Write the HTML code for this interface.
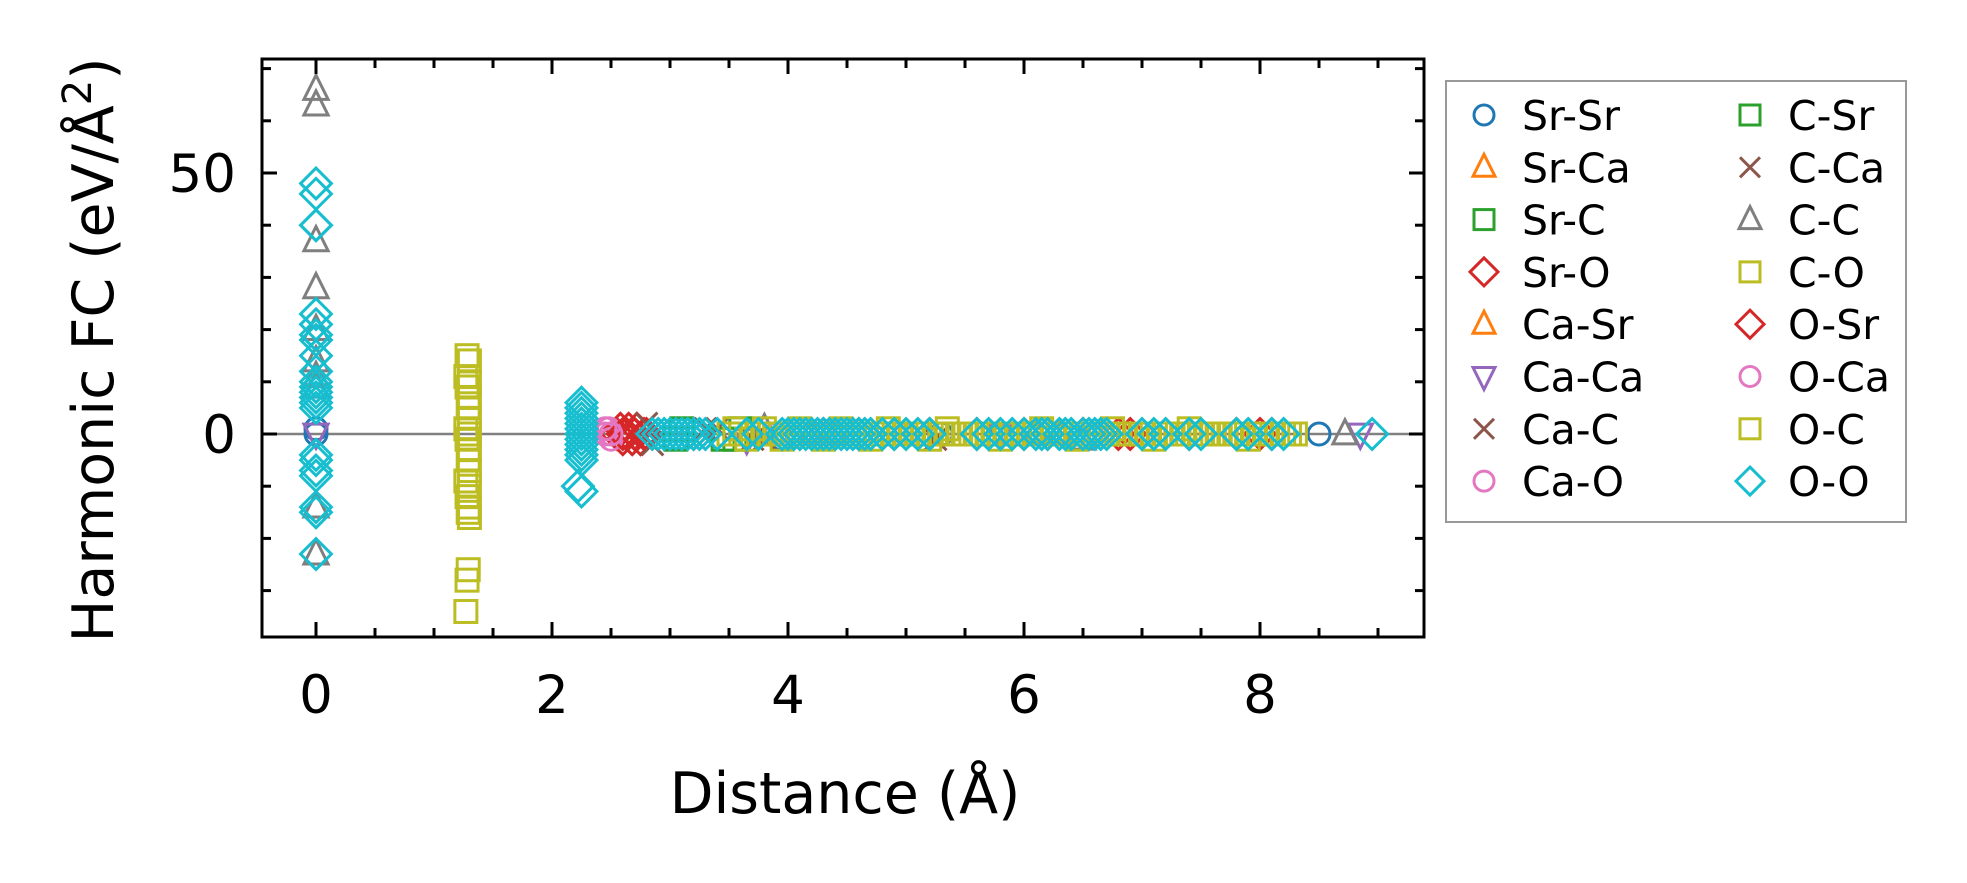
<!DOCTYPE html>
<html><head><meta charset="utf-8"><style>
body{margin:0;background:#fff;}
svg{display:block;font-family:"DejaVu Sans","Liberation Sans",sans-serif;}
</style></head><body>
<svg id="chart" width="1967" height="883" viewBox="0 0 1967 883">
<g id="marks"></g>
<g id="axes"></g>
<g id="legend"></g>
</svg>
<script>
const xTicks=[0,2,4,6,8];
const yTicks=[0,50];
const seriesNames=["Sr-Sr","Sr-Ca","Sr-C","Sr-O","Ca-Sr","Ca-Ca","Ca-C","Ca-O","C-Sr","C-Ca","C-C","C-O","O-Sr","O-Ca","O-C","O-O"];
const seriesColors=["#1f77b4","#ff7f0e","#2ca02c","#d62728","#ff7f0e","#9467bd","#8c564b","#e377c2","#2ca02c","#8c564b","#7f7f7f","#bcbd22","#d62728","#e377c2","#bcbd22","#17becf"];
const seriesMarkers=["o","^","s","D","^","v","x","o","s","x","^","s","D","o","s","D"];
const srsrX=[0,0,3.95,5.3,8.5];const srsrY=[0,1,-1,0,0];
const srcaX=[4.2,6.1];const srcaY=[0,0];
const srcX=[3.05,3.45,5.1];const srcY=[-1,-1,0];
const sroX=[2.55,2.58,2.6,2.63,2.65,2.68,2.7,2.72,2.75,2.78,2.8,4.3,4.6,5.2,6.0,6.5,6.9,7.8,8.1];const sroY=[0,1,-1,0,1,-1,0,1,-1,0,0,0,0,0,0,0,0,0,0];
const casrX=[4.4,6.3];const casrY=[0,0];
const cacaX=[0,3.65,5.8,8.85];const cacaY=[0,-1,0,0];
const cacX=[2.8,2.85,3.4,3.7,5.25];const cacY=[2,-2,1,-1,-1];
const caoX=[2.45,2.48,2.5,4.3,5.9,7.0];const caoY=[0,1,-1,0,0,0];
const csrX=[3.1,3.55,3.6];const csrY=[1,-1,1];
const ccaX=[3.3,3.8];const ccaY=[1,-1];
const ccX=[0,0,0,0,0,0,0,0,0,0,3.8,6.5,8.72];const ccY=[66,63,37,28,20,14,11,9,-14,-23,1,-1,0];
const coX=[1.28,1.3,1.27,1.3,1.28,1.3,1.29,1.3,1.27,1.3,1.28,1.3,1.29,1.3,1.27,1.3,1.28,1.3,1.29,1.3,1.29,1.28,1.27];
const coY=[15,14,11,10,9,7,5,3,1,0,-1,-3,-5,-7,-9,-10,-12,-14,-15,-16,-26,-28,-34];
const osrX=[2.6,2.7,3.2,4.1,4.9,5.6,6.2,6.8,7.4,8.0];const osrY=[0,0,0,0,0,0,0,0,0,0];
const ocaX=[2.45,2.5,3.9,5.0,6.6];const ocaY=[1,0,0,0,0];
const ocX=[3.5,3.55,3.6,3.65,3.7,3.75,3.8,3.85,3.9,3.95,4.0,4.05,4.1,4.15,4.2,4.25,4.3,4.35,4.4,4.45,4.5,4.55,4.6,4.65,4.7,4.75,4.8,4.85,4.9,4.95,5.0,5.05,5.1,5.15,5.2,5.25,5.3,5.35,5.4,5.45,5.5,5.55,5.6,5.65,5.7,5.75,5.8,5.85,5.9,5.95,6.0,6.05,6.1,6.15,6.2,6.25,6.3,6.35,6.4,6.45,6.5,6.55,6.6,6.65,6.7,6.75,6.8,6.85,6.9,6.95,7.0,7.05,7.1,7.15,7.2,7.25,7.3,7.35,7.4,7.45,7.5,7.55,7.6,7.65,7.7,7.75,7.8,7.85,7.9,7.95,8.0,8.05,8.1,8.15,8.2,8.25,8.3];
const ocY=[0,1,0,-1,0,0,1,0,0,-1,0,0,1,0,0,0,-1,0,0,1,0,0,0,0,-1,0,0,1,0,0,0,0,0,0,-1,0,0,1,0,0,0,0,0,0,0,0,-1,0,0,0,0,0,0,1,0,0,0,0,0,-1,0,0,0,0,0,1,0,0,0,0,0,0,-1,0,0,0,0,0,1,0,0,0,0,0,0,0,0,0,-1,0,0,0,0,0,0,0,0];
const ooX=[0,0,0,0,0,0,0,0,0,0,0,0,0,0,0,0,0,0,0,0,0,0,0,2.25,2.25,2.25,2.25,2.25,2.25,2.25,2.25,2.25,2.25,2.25,2.25,2.22,2.25,2.85,2.9,2.95,3.0,3.05,3.1,3.15,3.2,3.25,3.3,3.4,3.65,3.75,3.95,4.0,4.05,4.1,4.15,4.2,4.25,4.3,4.35,4.4,4.45,4.5,4.55,4.6,4.65,4.7,4.8,4.9,5.0,5.1,5.2,5.6,5.7,5.8,5.9,6.0,6.1,6.15,6.2,6.3,6.35,6.4,6.5,6.55,6.6,6.65,6.7,7.0,7.1,7.2,7.4,7.5,7.8,7.9,8.1,8.2,8.95];
const ooY=[48,46,40,40,23,21,19,18,15,12,10,9,8,7,6,5,-4,-5,-7,-8,-14,-15,-23,6,5,4,3,2,1,0,-1,-2,-3,-4,-5,-10,-11,0,0,0,0,0,0,0,0,0,0,0,0,0,0,0,0,0,0,0,0,0,0,0,0,0,0,0,0,0,0,0,0,0,0,0,0,0,0,0,0,0,0,0,0,0,0,0,0,0,0,0,0,0,0,0,0,0,0,0,0];
const seriesX=[srsrX,srcaX,srcX,sroX,casrX,cacaX,cacX,caoX,csrX,ccaX,ccX,coX,osrX,ocaX,ocX,ooX];
const seriesY=[srsrY,srcaY,srcY,sroY,casrY,cacaY,cacY,caoY,csrY,ccaY,ccY,coY,osrY,ocaY,ocY,ooY];

const L=262,R=1424,T=59,B=637;
const X0=316,XS=(1260-316)/8;
const Y0=434,YS=(434-173)/50;
const sx=v=>X0+v*XS, sy=v=>Y0-v*YS;
const NS="http://www.w3.org/2000/svg";
function mk(tag,attrs,parent){const e=document.createElementNS(NS,tag);for(const k in attrs)e.setAttribute(k,attrs[k]);parent.appendChild(e);return e;}
function marker(type,cx,cy,col,parent,s){
  let e;const sw=3;
  if(type==="o")e=mk("circle",{cx:cx,cy:cy,r:10*s,fill:"none",stroke:col,"stroke-width":sw},parent);
  else if(type==="s")e=mk("rect",{x:cx-10*s,y:cy-10*s,width:20*s,height:20*s,fill:"none",stroke:col,"stroke-width":sw},parent);
  else if(type==="D")e=mk("polygon",{points:`${cx},${cy-14*s} ${cx+14*s},${cy} ${cx},${cy+14*s} ${cx-14*s},${cy}`,fill:"none",stroke:col,"stroke-width":sw},parent);
  else if(type==="^")e=mk("polygon",{points:`${cx},${cy-13*s} ${cx+11*s},${cy+9*s} ${cx-11*s},${cy+9*s}`,fill:"none",stroke:col,"stroke-width":sw},parent);
  else if(type==="v")e=mk("polygon",{points:`${cx},${cy+13*s} ${cx+11*s},${cy-9*s} ${cx-11*s},${cy-9*s}`,fill:"none",stroke:col,"stroke-width":sw},parent);
  else e=mk("path",{d:`M${cx-10*s},${cy-10*s}L${cx+10*s},${cy+10*s}M${cx+10*s},${cy-10*s}L${cx-10*s},${cy+10*s}`,fill:"none",stroke:col,"stroke-width":sw},parent);
  return e;
}
const marks=document.getElementById("marks");
const clip=mk("clipPath",{id:"pc"},document.getElementById("chart"));
mk("rect",{x:L,y:T,width:R-L,height:B-T},clip);
marks.setAttribute("clip-path","url(#pc)");
const zl=mk("line",{x1:L,x2:R,y1:sy(0),y2:sy(0),stroke:"#808080","stroke-width":2.5},marks);


seriesNames.forEach((nm,i)=>{
  const g=mk("g",{},marks);
  
  
  seriesX[i].forEach((xv,j)=>{
    const m=marker(seriesMarkers[i],sx(xv),sy(seriesY[i][j]),seriesColors[i],g,1.1);
    
    
  });
});
const ax=document.getElementById("axes");
const fr=mk("rect",{x:L,y:T,width:R-L,height:B-T,fill:"none",stroke:"#000","stroke-width":3},ax);


for(let v=-0.5;v<=9.3;v+=0.5){
  const x=sx(v);if(x<L||x>R)continue;
  const maj=Math.abs(v%2)<1e-9;const len=maj?15:9;
  mk("line",{x1:x,x2:x,y1:B,y2:B-len,stroke:"#000","stroke-width":3},ax);
  mk("line",{x1:x,x2:x,y1:T,y2:T+len,stroke:"#000","stroke-width":3},ax);
}
for(let v=-30;v<=70;v+=10){
  const y=sy(v);const maj=(v%50===0);const len=maj?15:9;
  mk("line",{x1:L,x2:L+len,y1:y,y2:y,stroke:"#000","stroke-width":3},ax);
  mk("line",{x1:R,x2:R-len,y1:y,y2:y,stroke:"#000","stroke-width":3},ax);
}
xTicks.forEach(v=>{const t=mk("text",{x:sx(v),y:713,"font-size":53,"text-anchor":"middle"},ax);t.textContent=v;

});
yTicks.forEach(v=>{const t=mk("text",{x:236,y:sy(v)+19,"font-size":53,"text-anchor":"end"},ax);t.textContent=v;

});
const xt=mk("text",{x:845,y:813,"font-size":57,"text-anchor":"middle"},ax);xt.textContent="Distance (Å)";


const yt=mk("text",{x:0,y:0,"font-size":57,"text-anchor":"middle",transform:"translate(113,350) rotate(-90)"},ax);
yt.innerHTML='Harmonic FC (eV/Å<tspan dy="-22" font-size="40">2</tspan><tspan dy="22">)</tspan>';


const lg=document.getElementById("legend");
const lb=mk("rect",{x:1446,y:81,width:460,height:441,fill:"#fff",stroke:"#999","stroke-width":2},lg);


seriesNames.forEach((nm,i)=>{
  const col=Math.floor(i/8),row=i%8;
  const g=mk("g",{},lg);
  
  
  const cy=115+row*52.3;
  marker(seriesMarkers[i],col?1750:1484,cy,seriesColors[i],g,1);
  const t=mk("text",{x:col?1788:1522,y:cy+15,"font-size":41},g);t.textContent=nm;
});
</script>
</body></html>
